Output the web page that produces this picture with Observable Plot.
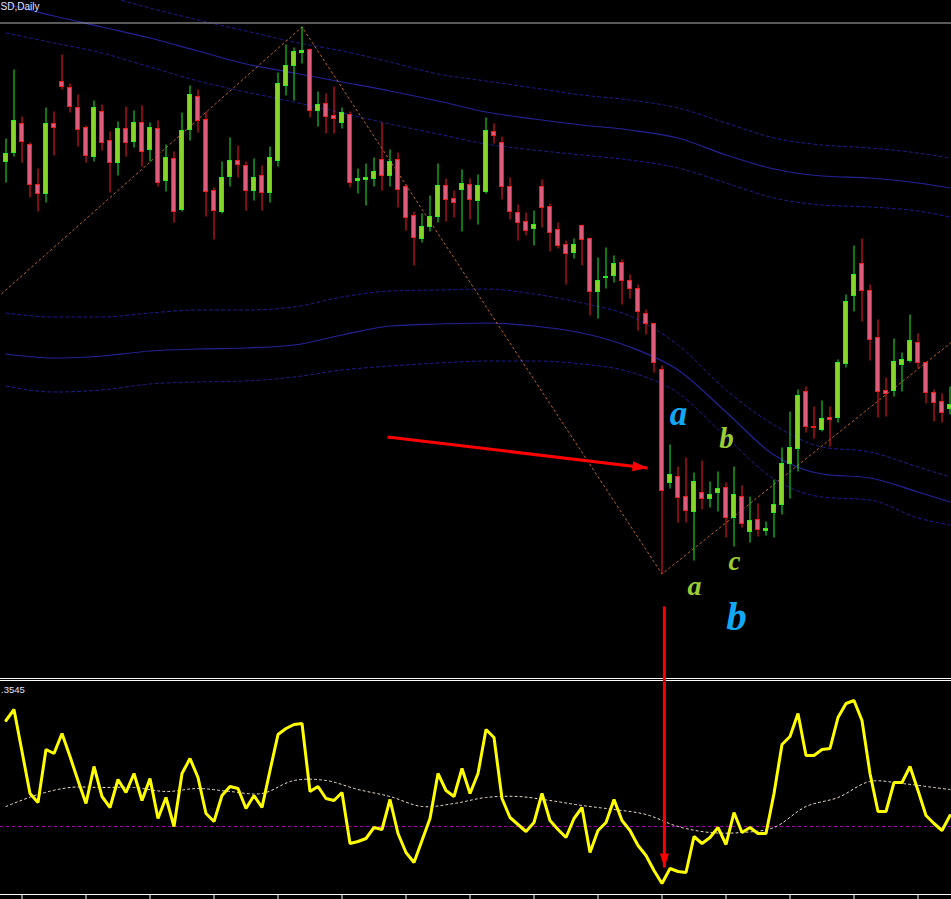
<!DOCTYPE html>
<html><head><meta charset="utf-8">
<script src="https://cdn.jsdelivr.net/npm/d3@7"></script>
<script src="https://cdn.jsdelivr.net/npm/@observablehq/plot@0.6"></script>
<style>
html,body{margin:0;padding:0;background:#000;}
#wrap{position:relative;width:951px;height:899px;background:#000;overflow:hidden;}
.sep{position:absolute;left:0;width:951px;height:1px;background:#fff;}
#top{position:absolute;left:0;top:0;}
#bot{position:absolute;left:0;top:681px;}
</style></head><body>
<div id="wrap">
<div class="sep" style="top:678px"></div>
<div class="sep" style="top:680px"></div>
<div id="top"></div><div id="bot"></div>
</div>
<script>
// ---------- data ----------
const symbolLabel = "SD,Daily";
const oscLabel = ".3545";

const open = [838,847,876,855,815,806,876,918,912,892,
872,843,888,859,837,871,858,877,850,871,
819,841,790,870,903,880,809,788,823,839,
834,809,824,807,839,914,934,947,950,889,
896,884,877,885,819,820,821,840,824,840,
813,784,761,773,783,814,801,810,815,799,
808,868,857,813,787,778,771,813,793,770,
755,747,774,761,708,722,724,737,719,711,
686,676,630,517,523,503,488,507,501,507,
512,482,503,468,480,469,487,495,536,551,
608,573,570,582,582,636,704,736,709,662,
609,609,635,639,657,637,607,598,591];
const close = [846,879,858,815,806,876,872,913,893,870,
844,892,857,837,871,857,877,848,872,817,
842,788,869,905,879,808,789,822,839,835,
809,822,807,842,916,934,948,949,889,895,
883,881,887,817,821,822,828,824,838,810,
782,762,773,783,814,800,797,816,800,814,
869,864,813,788,777,769,775,792,767,754,
746,755,760,708,719,723,736,719,711,688,
676,637,509,525,502,489,518,501,505,511,
482,505,476,479,470,471,495,536,552,604,
573,572,581,580,637,698,725,709,660,608,
606,638,640,659,637,607,597,587,595];
const high = [861,930,883,857,831,892,888,945,916,905,
874,899,895,868,878,893,889,894,877,879,
855,848,887,914,910,888,812,838,862,854,
838,841,834,853,927,955,952,973,951,908,
906,913,892,888,831,836,842,877,850,847,
815,788,786,804,836,821,809,830,821,825,
882,876,863,822,795,787,789,820,796,777,
759,761,775,762,742,752,744,740,725,715,
690,677,634,555,533,542,527,539,518,528,
517,533,514,503,496,478,520,552,588,610,
613,593,599,593,640,705,754,761,715,680,
622,661,647,685,666,638,610,606,613];
const low = [817,843,837,802,788,797,844,910,887,853,
837,838,849,807,824,843,852,833,838,813,
808,777,788,859,867,783,760,786,813,822,
789,799,789,797,833,904,899,936,882,873,
866,866,871,812,806,794,813,809,813,792,
769,734,757,768,777,778,782,768,780,775,
806,856,800,780,759,764,754,772,748,751,
715,741,734,684,681,711,717,695,701,669,
665,627,426,511,477,477,439,490,492,488,
462,453,472,457,463,464,462,485,501,528,
567,561,568,553,577,632,688,678,639,582,
583,603,608,637,631,596,578,577,585];

// envelope bands, sampled every 6 bars
const bandIdx = [0,6,12,18,24,30,36,42,48,54,60,66,72,78,84,90,96,102,108,114,118];
const upperHi  = [1031,1018,1005,992,980,969,958,949,938,926,919,912,905,900,892,877,862,855,852,847,842];
const upperMid = [996,984,973,962,949,936,927,918,909,899,888,881,875,870,862,845,831,824,822,817,812];
const upperLo  = [967,957,947,933,919,908,898,887,876,866,856,850,845,840,832,817,802,795,793,789,783];
const lowerHi  = [687,683,683,687,690,690,693,703,709,710,711,706,697,684,655,610,575,553,548,533,523];
const lowerMid = [646,642,644,649,651,652,655,665,674,676,677,674,667,653,630,588,545,526,522,508,498];
const lowerLo  = [614,608,610,616,618,619,623,630,634,637,639,639,636,628,607,563,521,503,500,482,475];

// zigzag pivots
const zigIdx = [-1,37,82,119];
const zigPrice = [703,973,426,663];

// horizontal price line
const hLine = [977];

// wave labels
const noteText  = ["a","b","c","a","b"];
const noteIdx   = [84.06,90.06,91.06,86.06,91.3];
const notePrice = [586.5,561.5,438.5,413.5,383.5];

// arrows
const arrowFrom = {i:47.69, p:563};
const arrowTo   = {i:80.19, p:532};
const vArrowIdx = 82.3;
const vArrowTopPrice = 393;
const vArrowTipOsc = -41;

// oscillator
const osc = [106,117,75,33,24,77,73,93,70,46,
23,60,30,19,47,34,53,26,48,8,
29,0,53,68,49,13,5,31,40,38,
18,31,19,56,92,98,102,103,35,40,
28,26,34,-17,-15,-12,-1,-3,27,-7,
-26,-36,-14,8,53,36,30,58,33,53,
97,89,28,9,2,-5,4,33,6,-3,
-11,8,19,-26,-4,4,27,6,-4,-19,
-29,-44,-57,-42,-45,-46,-10,-17,-11,-1,
-18,14,-6,-1,-7,-7,33,82,90,113,
71,71,77,78,109,123,126,106,53,15,
15,44,44,60,36,11,3,-4,11];
const sigIdx = [0,4,8,12,16,20,24,28,32,36,40,44,48,52,56,60,64,68,72,76,80,84,88,92,96,100,104,108,112,116,118];
const sig = [20,32,39,39,39,35,38,35,33,46,46,37,30,20,23,29,30,26,21,17,12,0,-6,-6,-1,20,29,45,43,39,37];
const zeroLevel = [0];
const tickIdx = [2,10,18,26,34,42,50,58,66,74,82,90,98,106,114];

// ---------- styles ----------
const C = {
  bullFill:"#86d62a", bullLine:"#22ee22",
  bearFill:"#e05a7a", bearLine:"#ff1a1a",
  bandDash:"#1e1e90", bandSolid:"#232396",
  zig:"#b8621e", hline:"#b4b4b4",
  cyan:"#12a9f4", lime:"#9bcc35", red:"#ff0000",
  osc:"#ffff00", sig:"#f3e3cf", zero:"#a000a8", text:"#e2e4ff"
};
const noteColor = [C.cyan, C.lime, C.lime, C.lime, C.cyan];
const noteSize  = [35, 29, 27, 28, 41];

// ---------- build ----------
const candles = open.map((o,i)=>({i, open:o, high:high[i], low:low[i], close:close[i], up: close[i] >= o}));
const bulls = candles.filter(d=>d.up), bears = candles.filter(d=>!d.up);
const rows = (idx, arr) => idx.map((i,j)=>({i, v:arr[j]}));
const notes = noteText.map((t,j)=>({t, i:noteIdx[j], p:notePrice[j], c:noteColor[j], s:noteSize[j]}));

function head(len, half){
  return (color) => {
    const m = d3.create("svg:marker")
      .attr("viewBox", `0 ${-half} ${len} ${2*half}`)
      .attr("markerUnits","userSpaceOnUse")
      .attr("markerWidth", len).attr("markerHeight", 2*half)
      .attr("refX", len).attr("refY", 0)
      .attr("orient","auto")
      .attr("overflow","visible");
    m.append("path").attr("d", `M0,${-half}L${len},0L0,${half}Z`).attr("fill", color).attr("stroke","none");
    return m.node();
  };
}

const X = {type:"linear", domain:[0,118], range:[5.5,949.5]};
const topY = [318.5, 999.5];

const bandMarks = [
  ...[upperHi, upperLo, lowerHi, lowerLo].map(a => Plot.line(rows(bandIdx,a), {x:"i", y:"v", stroke:C.bandDash, strokeWidth:1, strokeDasharray:"3,3", curve:"monotone-x", clip:true})),
  ...[upperMid, lowerMid].map(a => Plot.line(rows(bandIdx,a), {x:"i", y:"v", stroke:C.bandSolid, strokeWidth:1.2, curve:"monotone-x", clip:true}))
];

const topPlot = Plot.plot({
  width:951, height:681, margin:0,
  style:{background:"transparent", color:"#fff", overflow:"hidden"},
  x:{...X, axis:null},
  y:{domain:topY, axis:null},
  marks:[
    ...bandMarks,
    Plot.ruleY(hLine, {stroke:C.hline, strokeWidth:1}),
    Plot.line(rows(zigIdx, zigPrice), {x:"i", y:"v", stroke:C.zig, strokeWidth:1, strokeDasharray:"2,3", clip:true}),
    Plot.ruleX(bulls, {x:"i", y1:"low", y2:"high", stroke:C.bullLine, strokeWidth:1}),
    Plot.ruleX(bears, {x:"i", y1:"low", y2:"high", stroke:C.bearLine, strokeWidth:1}),
    Plot.rect(bulls, {x1:d=>d.i-0.25, x2:d=>d.i+0.25, y1:"open", y2:"close", fill:C.bullFill, stroke:C.bullLine, strokeWidth:1}),
    Plot.rect(bears, {x1:d=>d.i-0.25, x2:d=>d.i+0.25, y1:"open", y2:"close", fill:C.bearFill, stroke:C.bearLine, strokeWidth:1}),
    Plot.text([symbolLabel], {frameAnchor:"top-left", dx:0, dy:9, lineAnchor:"bottom", textAnchor:"start", fill:C.text, fontSize:10, fontFamily:"Liberation Sans"}),
    ...notes.map(n => Plot.text([n], {x:"i", y:"p", text:"t", fill:n.c, fontSize:n.s, fontFamily:"Liberation Serif", fontWeight:"bold", fontStyle:"italic", lineAnchor:"middle", textAnchor:"middle"})),
    Plot.link([{a:arrowFrom, b:arrowTo}], {x1:d=>d.a.i, y1:d=>d.a.p, x2:d=>d.b.i, y2:d=>d.b.p, stroke:C.red, strokeWidth:3, markerEnd:head(15,5)}),
    Plot.ruleX([vArrowIdx], {x:d=>d, y1:vArrowTopPrice, y2:topY[0], stroke:C.red, strokeWidth:3})
  ]
});
document.getElementById("top").appendChild(topPlot);

const oscY = [-68, 145];
const botPlot = Plot.plot({
  width:951, height:218, marginTop:0, marginLeft:0, marginRight:0, marginBottom:5,
  style:{background:"transparent", color:"#fff", overflow:"visible"},
  x:{...X},
  y:{domain:oscY, axis:null},
  marks:[
    Plot.ruleY(zeroLevel, {stroke:C.zero, strokeWidth:1, strokeDasharray:"3,3"}),
    Plot.line(rows(sigIdx, sig), {x:"i", y:"v", stroke:C.sig, strokeWidth:1, strokeDasharray:"2,3", curve:"catmull-rom"}),
    Plot.line(rows(candles.map(d=>d.i), osc), {x:"i", y:"v", stroke:C.osc, strokeWidth:3, strokeLinejoin:"miter"}),
    Plot.frame({anchor:"bottom", stroke:"#fff"}),
    Plot.axisX(tickIdx, {tickSize:5, tickFormat:()=>null, label:null, stroke:"#fff"}),
    Plot.text([oscLabel], {frameAnchor:"top-left", dx:0.5, dy:11, lineAnchor:"bottom", textAnchor:"start", fill:C.text, fontSize:9.5, fontFamily:"Liberation Sans"}),
    Plot.link([{x:vArrowIdx, a:oscY[1], b:vArrowTipOsc}], {x1:"x", x2:"x", y1:"a", y2:"b", stroke:C.red, strokeWidth:3, markerEnd:head(14,4.5)})
  ]
});
document.getElementById("bot").appendChild(botPlot);
</script>
</body></html>
